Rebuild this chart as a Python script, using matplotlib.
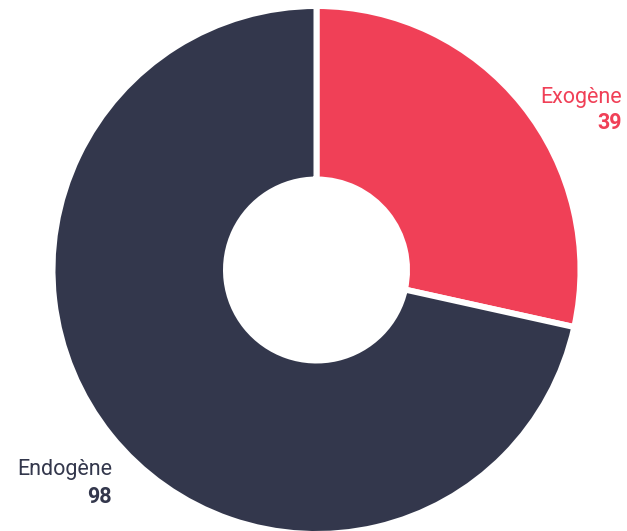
import matplotlib
matplotlib.use("Agg")
import matplotlib.pyplot as plt

categories = ["Exogène", "Endogène"]
values = [39, 98]
colors = ["#F04057", "#33374C"]

W, H = 627, 531
fig = plt.figure(figsize=(W / 100, H / 100), dpi=100)
ax = fig.add_axes([0, 0, 1, 1])

cx, cy = 316.5, H - 270
gap = 6
R = 261 + gap / 2
r_in = 93.5 - gap / 2
ax.pie(values, colors=colors, startangle=90, counterclock=False,
       center=(cx, cy), radius=R, frame=True,
       wedgeprops=dict(width=R - r_in, edgecolor="white", linewidth=gap * 72 / 100))
ax.set_xlim(0, W)
ax.set_ylim(0, H)
ax.set_aspect("equal")
ax.axis("off")

font = "Roboto"
fs = 15.5
ax.text(622, H - 97, categories[0], color=colors[0], fontsize=fs, ha="right", va="center", family=font)
ax.text(622, H - 123, str(values[0]), color=colors[0], fontsize=fs, ha="right", va="center", family=font, fontweight="bold")
ax.text(112, H - 470, categories[1], color=colors[1], fontsize=fs, ha="right", va="center", family=font)
ax.text(112, H - 497, str(values[1]), color=colors[1], fontsize=fs, ha="right", va="center", family=font, fontweight="bold")

fig.savefig("out.png", dpi=100)
